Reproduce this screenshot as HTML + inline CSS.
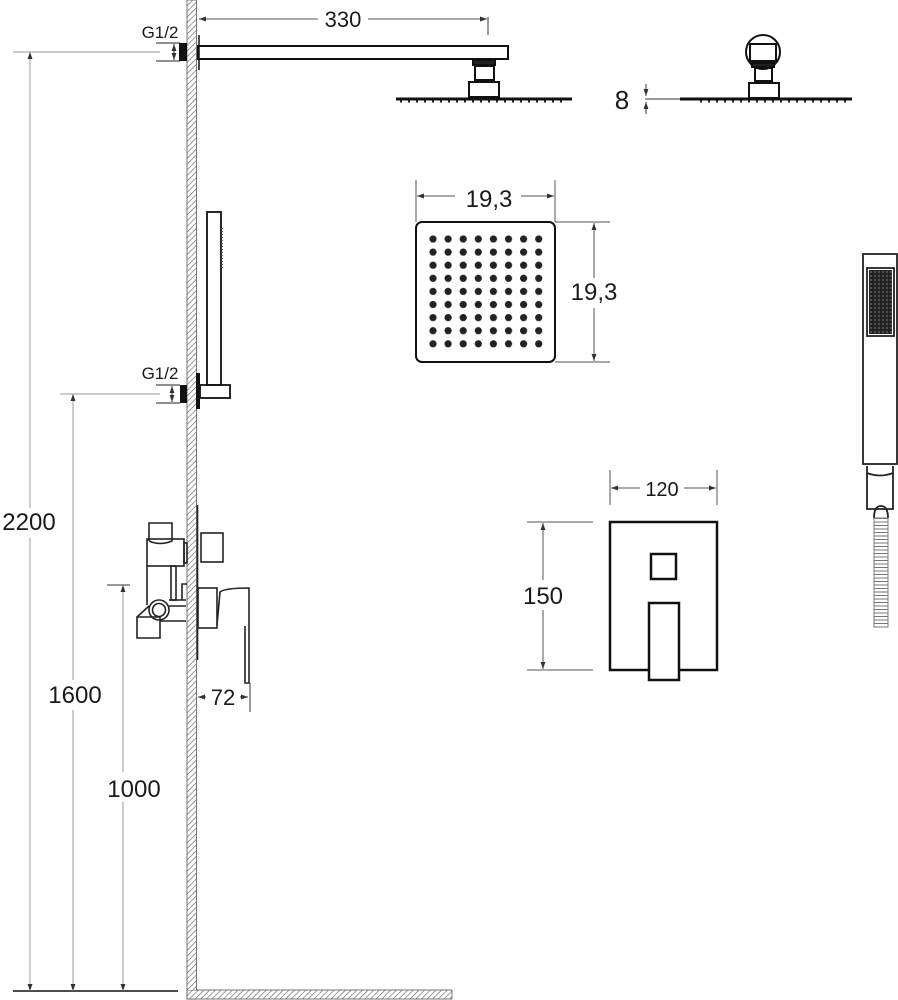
<!DOCTYPE html>
<html><head><meta charset="utf-8"><style>
html,body{margin:0;padding:0;background:#fff}
svg{display:block}
text{font-family:"Liberation Sans",sans-serif;fill:#1a1a1a}
</style></head><body>
<svg width="898" height="1000" viewBox="0 0 898 1000" xmlns="http://www.w3.org/2000/svg">
<defs>
<pattern id="h" width="4" height="4" patternUnits="userSpaceOnUse" patternTransform="rotate(45)">
<rect width="4" height="4" fill="#fff"/><line x1="0" y1="0" x2="0" y2="4" stroke="#666" stroke-width="1.3"/>
</pattern>
<marker id="a" viewBox="0 0 10 10" refX="10" refY="5" markerWidth="7" markerHeight="7" orient="auto-start-reverse"><path d="M0,1.5 L10,5 L0,8.5z" fill="#333"/></marker>
<pattern id="dp" x="426.5" y="232.5" width="15.1" height="13.1" patternUnits="userSpaceOnUse"><circle cx="6.5" cy="6.5" r="3.6" fill="#222"/></pattern>
<pattern id="hp" x="869" y="270" width="4" height="4" patternUnits="userSpaceOnUse"><rect width="4" height="4" fill="#222"/><circle cx="2" cy="2" r="0.6" fill="#bbb"/></pattern>
<pattern id="hs" width="4" height="3.5" patternUnits="userSpaceOnUse"><rect width="4" height="3.5" fill="#fff"/><line x1="0" y1="0.5" x2="4" y2="0.5" stroke="#777" stroke-width="1"/></pattern>
</defs>

<rect x="187" y="0" width="9.5" height="999" fill="url(#h)" stroke="#555" stroke-width="0.8"/>
<rect x="187" y="990" width="265" height="9" fill="url(#h)" stroke="#555" stroke-width="0.8"/>
<rect x="188" y="980" width="8" height="10" fill="url(#h)"/>

<line x1="13" y1="991" x2="178" y2="991" stroke="#111" stroke-width="1.5"/>
<g stroke="#999" stroke-width="1" fill="none">
<line x1="13" y1="52" x2="160" y2="52"/>
<line x1="60" y1="394" x2="160" y2="394"/>
<line x1="107" y1="585" x2="130" y2="585" stroke="#333"/>
<line x1="30" y1="991" x2="30" y2="52" marker-end="url(#a)" marker-start="url(#a)"/>
<line x1="73" y1="991" x2="73" y2="394" marker-end="url(#a)" marker-start="url(#a)"/>
<line x1="123" y1="991" x2="123" y2="585" marker-end="url(#a)" marker-start="url(#a)"/>
</g>
<rect x="0" y="508" width="60" height="30" fill="#fff"/>
<text x="29" y="530" font-size="24" text-anchor="middle">2200</text>
<rect x="45" y="680" width="62" height="30" fill="#fff"/>
<text x="75" y="703" font-size="24" text-anchor="middle">1600</text>
<rect x="103" y="772" width="62" height="30" fill="#fff"/>
<text x="134" y="797" font-size="24" text-anchor="middle">1000</text>

<text x="160" y="38" font-size="17" text-anchor="middle">G1/2</text>
<g stroke="#222" stroke-width="1">
<line x1="156" y1="43" x2="180" y2="43"/><line x1="156" y1="61" x2="180" y2="61"/>
<line x1="174" y1="44" x2="174" y2="60" marker-end="url(#a)" marker-start="url(#a)"/>
</g>
<rect x="179" y="43" width="8" height="18" fill="#111"/>

<g fill="none" stroke="#111" stroke-width="2">
<rect x="198" y="46" width="310" height="13"/>
<line x1="199" y1="35" x2="199" y2="70" stroke-width="1.5"/>
<rect x="473" y="60" width="22" height="5" fill="#222"/>
<rect x="475" y="66" width="19" height="14"/>
<rect x="469" y="82" width="30" height="15"/>
</g>
<line x1="396" y1="99" x2="572" y2="99" stroke="#111" stroke-width="3"/>
<line x1="400" y1="101.5" x2="568" y2="101.5" stroke="#222" stroke-width="2" stroke-dasharray="2,6"/>
<line x1="199" y1="19" x2="487" y2="19" stroke="#555" stroke-width="1" marker-end="url(#a)" marker-start="url(#a)"/>
<line x1="488" y1="17" x2="488" y2="35" stroke="#333" stroke-width="1"/>
<rect x="318" y="6" width="50" height="26" fill="#fff"/>
<text x="343" y="27" font-size="22" text-anchor="middle">330</text>

<g fill="none" stroke="#111" stroke-width="2">
<circle cx="763" cy="52" r="17"/>
<rect x="750" y="44" width="26" height="17" fill="#fff"/>
<rect x="752" y="63" width="22" height="4" fill="#222"/>
<rect x="755" y="68" width="17" height="13"/>
<rect x="749" y="83" width="30" height="15"/>
</g>
<line x1="680" y1="99" x2="852" y2="99" stroke="#111" stroke-width="3"/>
<line x1="645" y1="99" x2="680" y2="99" stroke="#999" stroke-width="2"/>
<line x1="700" y1="101.5" x2="850" y2="101.5" stroke="#222" stroke-width="2" stroke-dasharray="2,6"/>
<line x1="646" y1="84" x2="646" y2="96" stroke="#333" marker-end="url(#a)"/>
<line x1="646" y1="114" x2="646" y2="102" stroke="#333" marker-end="url(#a)"/>
<text x="622" y="109" font-size="26" text-anchor="middle">8</text>

<rect x="416" y="222" width="139" height="140" rx="6" fill="none" stroke="#111" stroke-width="2"/>
<rect x="426.5" y="232.5" width="121" height="118" fill="url(#dp)"/>
<g stroke="#555" stroke-width="1" fill="none">
<line x1="416" y1="180" x2="416" y2="222"/><line x1="555" y1="180" x2="555" y2="222"/>
<line x1="417" y1="196" x2="554" y2="196" marker-end="url(#a)" marker-start="url(#a)"/>
<line x1="555" y1="222" x2="610" y2="222"/><line x1="555" y1="362" x2="610" y2="362"/>
<line x1="594" y1="223" x2="594" y2="361" marker-end="url(#a)" marker-start="url(#a)"/>
</g>
<rect x="455" y="184" width="66" height="26" fill="#fff"/>
<text x="489" y="207" font-size="24" text-anchor="middle">19,3</text>
<rect x="564" y="278" width="60" height="30" fill="#fff"/>
<text x="594" y="300" font-size="24" text-anchor="middle">19,3</text>

<g fill="none" stroke="#222" stroke-width="1.8">
<rect x="863" y="254" width="34" height="210"/>
<rect x="867" y="268" width="27" height="68"/>
<path d="M867,466 L867,509 L893,509 L893,466"/>
<path d="M867,473 Q880,478 893,473"/>
<path d="M874,518 Q874,506 881,506 Q888,506 888,518"/>
</g>
<rect x="869" y="270" width="23" height="64" fill="url(#hp)"/>
<rect x="874" y="518" width="14" height="109" fill="url(#hs)" stroke="#777" stroke-width="1"/>

<g fill="none" stroke="#111" stroke-width="1.8">
<rect x="207" y="212" width="14" height="173"/>
<rect x="200" y="385" width="30" height="13"/>
</g>
<line x1="222" y1="228" x2="222" y2="268" stroke="#555" stroke-width="2" stroke-dasharray="1,2"/>
<rect x="196" y="373" width="4" height="36" fill="#111"/>
<rect x="180" y="385" width="7" height="18" fill="#111"/>
<text x="160" y="379" font-size="17" text-anchor="middle">G1/2</text>
<g stroke="#222" stroke-width="1">
<line x1="156" y1="385" x2="180" y2="385"/><line x1="156" y1="403" x2="180" y2="403"/>
<line x1="172" y1="386" x2="172" y2="402" marker-end="url(#a)" marker-start="url(#a)"/>
</g>

<g fill="none" stroke="#222" stroke-width="1.6">
<line x1="197.5" y1="505" x2="197.5" y2="660"/>
<rect x="201" y="533" width="22" height="29"/>
<rect x="198" y="588" width="19" height="40"/>
<path d="M217,625 L220,592 Q225,588 249,588 L249,683 L245,683 L245,626"/>
<path d="M149,541 L149,523 L172,523 L172,541 Q160,546 149,541"/>
<rect x="147" y="539" width="37" height="27"/>
<rect x="184" y="543" width="3" height="20"/>
<line x1="147" y1="566" x2="147" y2="605"/>
<rect x="171" y="566" width="5" height="34"/>
<circle cx="159" cy="610" r="10"/>
<circle cx="159" cy="610" r="6.5"/>
<path d="M137,617 L160,617 L160,638 L137,638 Z"/>
<path d="M137,617 L149,606"/>
<line x1="160" y1="621" x2="186" y2="621"/>
<line x1="169" y1="600" x2="186" y2="600"/>
<line x1="169" y1="606" x2="186" y2="606"/>
<path d="M182,600 L182,584 L187,584"/>
</g>
<line x1="198" y1="697" x2="248" y2="697" stroke="#333" stroke-width="1" marker-end="url(#a)" marker-start="url(#a)"/>
<line x1="250" y1="683" x2="250" y2="712" stroke="#333" stroke-width="1"/>
<rect x="206" y="684" width="34" height="26" fill="#fff"/>
<text x="223" y="705" font-size="22" text-anchor="middle">72</text>

<g fill="none" stroke="#111" stroke-width="2.5">
<rect x="610" y="522" width="107" height="148"/>
<rect x="651" y="554" width="25" height="25"/>
<rect x="649" y="603" width="30" height="77" fill="#fff"/>
</g>
<g stroke="#555" stroke-width="1" fill="none">
<line x1="610" y1="470" x2="610" y2="505"/><line x1="717" y1="470" x2="717" y2="505"/>
<line x1="611" y1="488" x2="716" y2="488" marker-end="url(#a)" marker-start="url(#a)"/>
<line x1="527" y1="522" x2="593" y2="522"/><line x1="527" y1="670" x2="593" y2="670"/>
<line x1="543" y1="523" x2="543" y2="669" marker-end="url(#a)" marker-start="url(#a)"/>
</g>
<rect x="640" y="476" width="44" height="24" fill="#fff"/>
<text x="662" y="496" font-size="20" text-anchor="middle">120</text>
<rect x="518" y="580" width="50" height="30" fill="#fff"/>
<text x="543" y="604" font-size="24" text-anchor="middle">150</text>
</svg>
</body></html>
